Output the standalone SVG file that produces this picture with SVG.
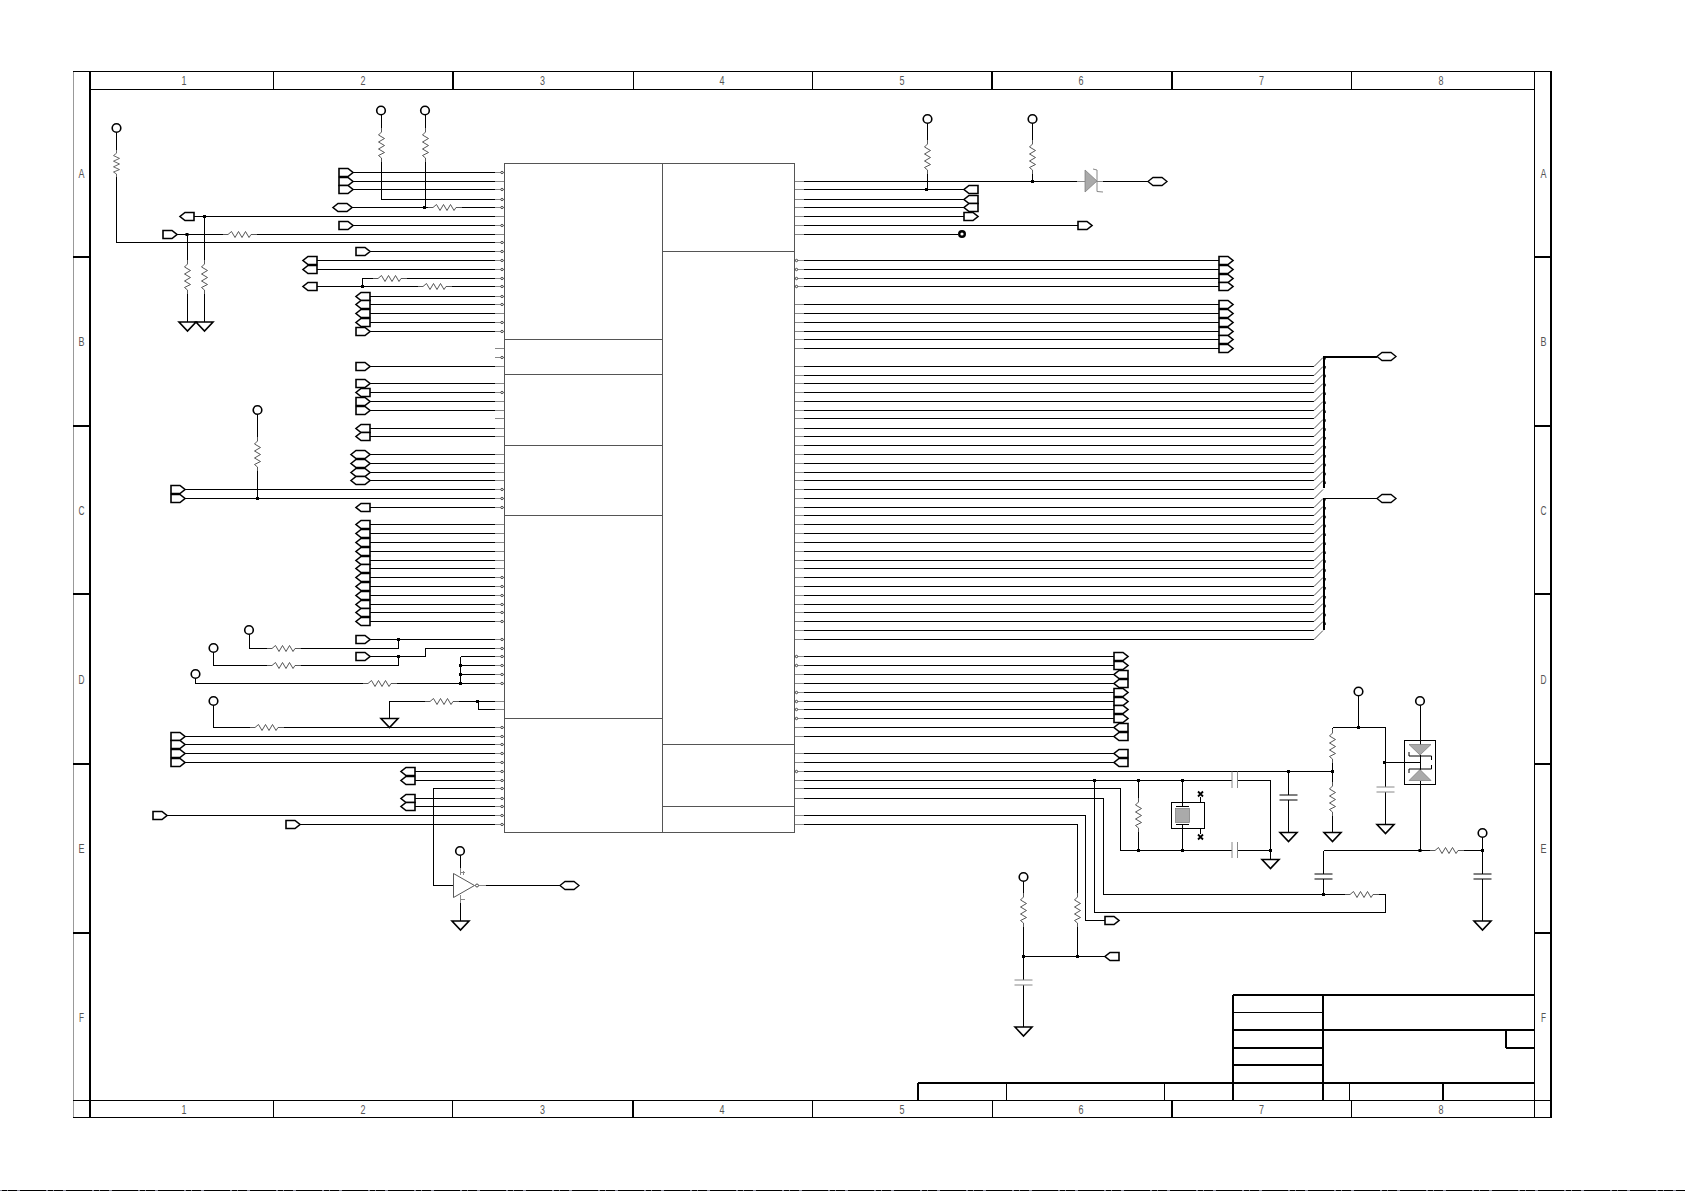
<svg xmlns="http://www.w3.org/2000/svg" xmlns:xlink="http://www.w3.org/1999/xlink" width="1685" height="1191" viewBox="0 0 1685 1191">
<style>
text{font-family:"Liberation Sans",Arial,sans-serif;font-size:13px;fill:#555;text-anchor:middle}
.w{fill:none;stroke:#000;stroke-width:1;shape-rendering:crispEdges}
.b{fill:none;stroke:#000;stroke-width:2;shape-rendering:crispEdges}
.s{fill:none;stroke:#888;stroke-width:1;shape-rendering:crispEdges}
.c{fill:#fff;stroke:#000;stroke-width:1.6}
.r{fill:none;stroke:#444;stroke-width:.9}
.g{fill:none;stroke:#888;stroke-width:1}
.k{fill:none;stroke:#000;stroke-width:1}
.t{fill:none;stroke:#555;stroke-width:1;shape-rendering:crispEdges}
.f{fill:#aaa;stroke:#777;stroke-width:.7}
</style>
<defs>
<path id="D" class="c" d="M0,-4H9L14,0L9,4H0Z"/>
<path id="L" class="c" d="M14,-4H5L0,0L5,4H14Z"/>
<path id="H" class="c" d="M0,0L5,-4H14L19,0L14,4H5Z"/>
<path id="E" d="M0,0L5,-4H14L19,0L14,4H5Z" fill="#fff" stroke="#000" stroke-width="1.3"/>
<path id="G" class="c" d="M-8.5,0H8.5L0,9Z"/>
<circle id="O" class="c" r="4.3"/>
<circle id="p" r="1.2" fill="#fff" stroke="#222" stroke-width=".8"/>
<rect id="J" x="-1.5" y="-1.5" width="3" height="3" fill="#000"/>
<path id="RV" class="r" d="M0,0V4L-3,7L3,10.5L-3,14L3,17.5L-3,21L3,24.5L-3,27.5L0,30V34"/>
<path id="RH" class="r" d="M0,0H5L8.5,-3L12,3L15.5,-3L19,3L22.5,-3L26,3L28,0H34"/>
<path id="CK" class="k" d="M-9,0H9M-9,5H9"/>
<path id="CG" class="g" d="M-9,0H9M-9,5H9"/>
</defs>
<rect width="1685" height="1191" fill="#fff"/>
<g id="frame">
<path d="M73.5,72V1117" fill="none" stroke="#999"/>
<path class="w" d="M73,71.5H1552M73,1117.5H1552M90,89.5H1534M73,1100.5H1552M1534.5,72V1117"/>
<path class="b" d="M90,72V1117M1551,72V1118"/>
<path class="w" d="M273.5,72V89M633.5,72V89M812.5,72V89M1351.5,72V89M273.5,1100V1117M452.5,1100V1117M812.5,1100V1117M992.5,1100V1117M1351.5,1100V1117"/>
<path class="b" d="M453,72V89M992,72V89M1172,72V89M633,1100V1117M1172,1100V1117M73,257H90M1534,257H1552M73,425.5H90M1534,425.5H1552M73,594H90M1534,594H1552M73,764H90M1534,764H1552M73,933H90M1534,933H1552"/>
<g>
<text x="184" y="85" textLength="5" lengthAdjust="spacingAndGlyphs">1</text>
<text x="363" y="85" textLength="5" lengthAdjust="spacingAndGlyphs">2</text>
<text x="542.5" y="85" textLength="5" lengthAdjust="spacingAndGlyphs">3</text>
<text x="722" y="85" textLength="5" lengthAdjust="spacingAndGlyphs">4</text>
<text x="902" y="85" textLength="5" lengthAdjust="spacingAndGlyphs">5</text>
<text x="1081" y="85" textLength="5" lengthAdjust="spacingAndGlyphs">6</text>
<text x="1261.5" y="85" textLength="5" lengthAdjust="spacingAndGlyphs">7</text>
<text x="1441" y="85" textLength="5" lengthAdjust="spacingAndGlyphs">8</text>
<text x="184" y="1114" textLength="5" lengthAdjust="spacingAndGlyphs">1</text>
<text x="363" y="1114" textLength="5" lengthAdjust="spacingAndGlyphs">2</text>
<text x="542.5" y="1114" textLength="5" lengthAdjust="spacingAndGlyphs">3</text>
<text x="722" y="1114" textLength="5" lengthAdjust="spacingAndGlyphs">4</text>
<text x="902" y="1114" textLength="5" lengthAdjust="spacingAndGlyphs">5</text>
<text x="1081" y="1114" textLength="5" lengthAdjust="spacingAndGlyphs">6</text>
<text x="1261.5" y="1114" textLength="5" lengthAdjust="spacingAndGlyphs">7</text>
<text x="1441" y="1114" textLength="5" lengthAdjust="spacingAndGlyphs">8</text>
<text x="81.5" y="178" textLength="6" lengthAdjust="spacingAndGlyphs">A</text>
<text x="81.5" y="346" textLength="6" lengthAdjust="spacingAndGlyphs">B</text>
<text x="81.5" y="515" textLength="6" lengthAdjust="spacingAndGlyphs">C</text>
<text x="81.5" y="684" textLength="6" lengthAdjust="spacingAndGlyphs">D</text>
<text x="81.5" y="853" textLength="6" lengthAdjust="spacingAndGlyphs">E</text>
<text x="81.5" y="1021.5" textLength="5" lengthAdjust="spacingAndGlyphs">F</text>
<text x="1543.5" y="178" textLength="6" lengthAdjust="spacingAndGlyphs">A</text>
<text x="1543.5" y="346" textLength="6" lengthAdjust="spacingAndGlyphs">B</text>
<text x="1543.5" y="515" textLength="6" lengthAdjust="spacingAndGlyphs">C</text>
<text x="1543.5" y="684" textLength="6" lengthAdjust="spacingAndGlyphs">D</text>
<text x="1543.5" y="853" textLength="6" lengthAdjust="spacingAndGlyphs">E</text>
<text x="1543.5" y="1021.5" textLength="5" lengthAdjust="spacingAndGlyphs">F</text>
</g>
<path d="M0,1190.5H1685" stroke="#000" stroke-width="1" fill="none"/>
<path d="M0,1190.5H1685" stroke="#889" stroke-width="1" stroke-dasharray="2 5 1 9 3 26" fill="none"/>
</g>
<g id="title-block">
<path class="b" d="M1233,995H1534M1233,1030H1534M1233,1048H1323M1233,1065H1323M918,1083H1534M1233,995V1100M1323,995V1100M1506,1030V1048M1506,1048H1534M918,1083V1100M1443,1083V1100"/>
<path class="w" d="M1233,1012.5H1323M1006.5,1083V1100M1164.5,1083V1100M1349.5,1083V1100"/>
</g>
<g id="U1">
<rect class="t" x="504.5" y="163.5" width="290" height="669" fill="none"/>
<path class="t" d="M662.5,163V832M504,339.5H662M504,374.5H662M504,445.5H662M504,515.5H662M504,718.5H662M662,251.5H794M662,744.5H794M662,806.5H794"/>
<path class="s" d="M495,172.5h9M495,181.5h9M495,189.5h9M495,199.5h9M495,207.5h9M495,216.5h9M495,225.5h9M495,234.5h9M495,242.5h9M495,251.5h9M495,260.5h9M495,269.5h9M495,278.5h9M495,286.5h9M495,296.5h9M495,304.5h9M495,313.5h9M495,322.5h9M495,331.5h9M495,348.5h9M495,357.5h9M495,366.5h9M495,383.5h9M495,392.5h9M495,401.5h9M495,410.5h9M495,418.5h9M495,428.5h9M495,436.5h9M495,454.5h9M495,463.5h9M495,472.5h9M495,480.5h9M495,489.5h9M495,498.5h9M495,507.5h9M495,524.5h9M495,533.5h9M495,542.5h9M495,551.5h9M495,560.5h9M495,568.5h9M495,577.5h9M495,586.5h9M495,595.5h9M495,604.5h9M495,612.5h9M495,621.5h9M495,639.5h9M495,648.5h9M495,656.5h9M495,665.5h9M495,674.5h9M495,683.5h9M495,701.5h9M495,709.5h9M495,727.5h9M495,736.5h9M495,744.5h9M495,753.5h9M495,762.5h9M495,771.5h9M495,780.5h9M495,788.5h9M495,798.5h9M495,806.5h9M495,815.5h9M495,824.5h9"/>
<path class="s" d="M795,181.5h9M795,189.5h9M795,199.5h9M795,207.5h9M795,216.5h9M795,225.5h9M795,234.5h9M795,260.5h9M795,269.5h9M795,278.5h9M795,286.5h9M795,304.5h9M795,313.5h9M795,322.5h9M795,331.5h9M795,339.5h9M795,348.5h9M795,366.5h9M795,375.5h9M795,383.5h9M795,392.5h9M795,401.5h9M795,410.5h9M795,418.5h9M795,428.5h9M795,436.5h9M795,445.5h9M795,454.5h9M795,463.5h9M795,472.5h9M795,480.5h9M795,489.5h9M795,498.5h9M795,507.5h9M795,515.5h9M795,524.5h9M795,533.5h9M795,542.5h9M795,551.5h9M795,560.5h9M795,568.5h9M795,577.5h9M795,586.5h9M795,595.5h9M795,604.5h9M795,612.5h9M795,621.5h9M795,630.5h9M795,639.5h9M795,656.5h9M795,665.5h9M795,674.5h9M795,683.5h9M795,692.5h9M795,701.5h9M795,709.5h9M795,718.5h9M795,727.5h9M795,736.5h9M795,753.5h9M795,762.5h9M795,771.5h9M795,780.5h9M795,788.5h9M795,798.5h9M795,815.5h9M795,824.5h9"/>
<g id="pins">
<use href="#p" x="502" y="172.5"/><use href="#p" x="502" y="189.5"/><use href="#p" x="502" y="199.5"/><use href="#p" x="502" y="207.5"/><use href="#p" x="502" y="225.5"/><use href="#p" x="502" y="242.5"/><use href="#p" x="502" y="251.5"/><use href="#p" x="502" y="260.5"/><use href="#p" x="502" y="269.5"/><use href="#p" x="502" y="278.5"/><use href="#p" x="502" y="286.5"/><use href="#p" x="502" y="296.5"/><use href="#p" x="502" y="304.5"/><use href="#p" x="502" y="322.5"/><use href="#p" x="502" y="331.5"/><use href="#p" x="502" y="357.5"/><use href="#p" x="502" y="392.5"/><use href="#p" x="502" y="489.5"/><use href="#p" x="502" y="498.5"/><use href="#p" x="502" y="507.5"/><use href="#p" x="502" y="577.5"/><use href="#p" x="502" y="586.5"/><use href="#p" x="502" y="595.5"/><use href="#p" x="502" y="604.5"/><use href="#p" x="502" y="612.5"/><use href="#p" x="502" y="621.5"/><use href="#p" x="502" y="639.5"/><use href="#p" x="502" y="648.5"/><use href="#p" x="502" y="656.5"/><use href="#p" x="502" y="665.5"/><use href="#p" x="502" y="674.5"/><use href="#p" x="502" y="683.5"/><use href="#p" x="502" y="727.5"/><use href="#p" x="502" y="736.5"/><use href="#p" x="502" y="744.5"/><use href="#p" x="502" y="753.5"/><use href="#p" x="502" y="762.5"/><use href="#p" x="502" y="771.5"/><use href="#p" x="502" y="780.5"/><use href="#p" x="502" y="788.5"/><use href="#p" x="502" y="798.5"/><use href="#p" x="502" y="806.5"/><use href="#p" x="502" y="815.5"/><use href="#p" x="502" y="824.5"/>
<use href="#p" x="796.5" y="260.5"/><use href="#p" x="796.5" y="269.5"/><use href="#p" x="796.5" y="278.5"/><use href="#p" x="796.5" y="286.5"/><use href="#p" x="796.5" y="656.5"/><use href="#p" x="796.5" y="665.5"/><use href="#p" x="796.5" y="692.5"/><use href="#p" x="796.5" y="701.5"/><use href="#p" x="796.5" y="709.5"/><use href="#p" x="796.5" y="718.5"/><use href="#p" x="796.5" y="771.5"/>
</g>
</g>
<g id="connectors">
<path class="w" d="M352,172.5H495M352,181.5H495M352,189.5H495M381.5,115V128M381.5,162V199.5H495M425.5,115V128M425.5,162V207.5M352,207.5H428M462,207.5H495M194,216.5H495M204.5,216.5V260M204.5,294V322M352,225.5H495M177,234.5H223M257,234.5H495M187.5,234.5V260M187.5,294V322M116.5,132V150M116.5,177V242.5H495M370,251.5H495M317,260.5H495M317,269.5H495M362.5,286.5V278.5H373M407,278.5H495M317,286.5H418M452,286.5H495M370,296.5H495M370,304.5H495M370,313.5H495M370,322.5H495M370,331.5H495M370,366.5H495M370,383.5H495M370,392.5H495M370,401.5H495M370,410.5H495M370,428.5H495M370,436.5H495M370,454.5H495M370,463.5H495M370,472.5H495M370,480.5H495M185,489.5H495M185,498.5H495M257.5,414V437M257.5,471V498.5M370,507.5H495M370,524.5H495M370,533.5H495M370,542.5H495M370,551.5H495M370,560.5H495M370,568.5H495M370,577.5H495M370,586.5H495M370,595.5H495M370,604.5H495M370,612.5H495M370,621.5H495"/>
<path class="w" d="M370,639.5H495M249.5,634V648.5H267M301,648.5H398.5V639.5M213.5,652V665.5H267M301,665.5H398.5V656.5M370,656.5H425.5V648.5H495M460.5,656.5H495M460.5,656.5V683.5M460.5,665.5H495M460.5,674.5H495M460.5,683.5H495M195.5,678V683.5H363M397,683.5H460M389.5,718V701.5H425M459,701.5H495M478.5,701.5V709.5H495M213.5,705V727.5H250M284,727.5H495M185,736.5H495M185,744.5H495M185,753.5H495M185,762.5H495M415,771.5H495M415,780.5H495M495,788.5H433.5V885.5H453M415,798.5H495M415,806.5H495M167,815.5H495M300,824.5H495M486,885.5H560M460.5,855V868M460.5,903V921"/>
<path class="w" d="M804,181.5H1077M804,189.5H964M804,199.5H964M804,207.5H964M804,216.5H964M804,225.5H1078M804,234.5H958M927.5,123V140M927.5,174V189.5M1032.5,123V140M1032.5,174V181.5M1103,181.5H1148M804,260.5H1219M804,269.5H1219M804,278.5H1219M804,286.5H1219M804,304.5H1219M804,313.5H1219M804,322.5H1219M804,331.5H1219M804,339.5H1219M804,348.5H1219"/>
<path class="w" d="M804,366.5H1314M804,375.5H1314M804,383.5H1314M804,392.5H1314M804,401.5H1314M804,410.5H1314M804,418.5H1314M804,428.5H1314M804,436.5H1314M804,445.5H1314M804,454.5H1314M804,463.5H1314M804,472.5H1314M804,480.5H1314M804,489.5H1314M804,498.5H1314M804,507.5H1314M804,515.5H1314M804,524.5H1314M804,533.5H1314M804,542.5H1314M804,551.5H1314M804,560.5H1314M804,568.5H1314M804,577.5H1314M804,586.5H1314M804,595.5H1314M804,604.5H1314M804,612.5H1314M804,621.5H1314M804,630.5H1314M804,639.5H1314"/>
<path fill="none" stroke="#555" stroke-width="1" d="M1314,366.5l9,-9M1314,375.5l9,-9M1314,383.5l9,-9M1314,392.5l9,-9M1314,401.5l9,-9M1314,410.5l9,-9M1314,418.5l9,-9M1314,428.5l9,-9M1314,436.5l9,-9M1314,445.5l9,-9M1314,454.5l9,-9M1314,463.5l9,-9M1314,472.5l9,-9M1314,480.5l9,-9M1314,489.5l9,-9M1314,498.5l9,-9M1314,507.5l9,-9M1314,515.5l9,-9M1314,524.5l9,-9M1314,533.5l9,-9M1314,542.5l9,-9M1314,551.5l9,-9M1314,560.5l9,-9M1314,568.5l9,-9M1314,577.5l9,-9M1314,586.5l9,-9M1314,595.5l9,-9M1314,604.5l9,-9M1314,612.5l9,-9M1314,621.5l9,-9M1314,630.5l9,-9M1314,639.5l9,-9"/>
<path class="b" d="M1323.5,356V488M1323.5,498V630M1323,356.5H1377"/>
<path fill="none" stroke="#000" stroke-width="1.5" stroke-dasharray="2.5 6.4" d="M1325,357V488M1325,498V630"/>
<path class="w" d="M1323,498.5H1377"/>
<path class="w" d="M804,656.5H1114M804,665.5H1114M804,674.5H1114M804,683.5H1114M804,692.5H1114M804,701.5H1114M804,709.5H1114M804,718.5H1114M804,727.5H1114M804,736.5H1114M804,753.5H1114M804,762.5H1114"/>
<path class="w" d="M804,771.5H1332.5M804,780.5H1232M1238,780.5H1270.5V859M804,788.5H1120.5V850.5H1232M1238,850.5H1270.5M804,798.5H1103.5V894.5H1345M1379,894.5H1385.5V912.5H1094.5V780.5M804,815.5H1085.5V920.5H1105M804,824.5H1077.5V893M1077.5,927V956.5M1023.5,881V893M1023.5,927V980M1023.5,985V1027M1023.5,956.5H1105M1138.5,780.5V798M1138.5,832V850.5M1182.5,780.5V806M1182.5,824V850.5M1288.5,771.5V795M1288.5,800V832M1332.5,727.5V729M1332.5,763V782M1332.5,816V832M1332.5,727.5H1385.5V787M1385.5,792V824M1358.5,696V727.5M1384.5,762.5H1420M1420.5,705V745M1420.5,755V770M1420.5,781V850.5M1323.5,850.5H1430M1464,850.5H1482.5M1323.5,850.5V874M1323.5,879V894.5M1482.5,837V874M1482.5,879V921"/>
</g>
<g id="offpage">
<use href="#D" x="339" y="172.5"/><use href="#D" x="339" y="181.5"/><use href="#D" x="339" y="189.5"/><use href="#H" x="333" y="207.5"/><use href="#L" x="180" y="216.5"/><use href="#D" x="339" y="225.5"/><use href="#D" x="163" y="234.5"/><use href="#D" x="356" y="251.5"/><use href="#L" x="303" y="260.5"/><use href="#L" x="303" y="269.5"/><use href="#L" x="303" y="286.5"/><use href="#L" x="356" y="296.5"/><use href="#L" x="356" y="304.5"/><use href="#L" x="356" y="313.5"/><use href="#L" x="356" y="322.5"/><use href="#D" x="356" y="331.5"/><use href="#D" x="356" y="366.5"/><use href="#D" x="356" y="383.5"/><use href="#L" x="356" y="392.5"/><use href="#D" x="356" y="401.5"/><use href="#D" x="356" y="410.5"/><use href="#L" x="356" y="428.5"/><use href="#L" x="356" y="436.5"/><use href="#H" x="351" y="454.5"/><use href="#H" x="351" y="463.5"/><use href="#H" x="351" y="472.5"/><use href="#H" x="351" y="480.5"/><use href="#D" x="171" y="489.5"/><use href="#D" x="171" y="498.5"/><use href="#L" x="356" y="507.5"/><use href="#L" x="356" y="524.5"/><use href="#L" x="356" y="533.5"/><use href="#L" x="356" y="542.5"/><use href="#L" x="356" y="551.5"/><use href="#L" x="356" y="560.5"/><use href="#L" x="356" y="568.5"/><use href="#L" x="356" y="577.5"/><use href="#L" x="356" y="586.5"/><use href="#L" x="356" y="595.5"/><use href="#L" x="356" y="604.5"/><use href="#L" x="356" y="612.5"/><use href="#L" x="356" y="621.5"/><use href="#D" x="356" y="639.5"/><use href="#D" x="356" y="656.5"/><use href="#D" x="171" y="736.5"/><use href="#D" x="171" y="744.5"/><use href="#D" x="171" y="753.5"/><use href="#D" x="171" y="762.5"/><use href="#L" x="401" y="771.5"/><use href="#L" x="401" y="780.5"/><use href="#L" x="401" y="798.5"/><use href="#L" x="401" y="806.5"/><use href="#D" x="153" y="815.5"/><use href="#D" x="286" y="824.5"/><use href="#E" x="560" y="885.5"/>
<use href="#L" x="964" y="189.5"/><use href="#L" x="964" y="199.5"/><use href="#L" x="964" y="207.5"/><use href="#D" x="964" y="216.5"/><use href="#D" x="1078" y="225.5"/><use href="#E" x="1148" y="181.5"/>
<use href="#D" x="1219" y="260.5"/><use href="#D" x="1219" y="269.5"/><use href="#D" x="1219" y="278.5"/><use href="#D" x="1219" y="286.5"/><use href="#D" x="1219" y="304.5"/><use href="#D" x="1219" y="313.5"/><use href="#D" x="1219" y="322.5"/><use href="#D" x="1219" y="331.5"/><use href="#D" x="1219" y="339.5"/><use href="#D" x="1219" y="348.5"/>
<use href="#E" x="1377" y="356.5"/><use href="#E" x="1377" y="498.5"/>
<use href="#D" x="1114" y="656.5"/><use href="#D" x="1114" y="665.5"/><use href="#L" x="1114" y="674.5"/><use href="#L" x="1114" y="683.5"/><use href="#D" x="1114" y="692.5"/><use href="#D" x="1114" y="701.5"/><use href="#D" x="1114" y="709.5"/><use href="#D" x="1114" y="718.5"/><use href="#L" x="1114" y="727.5"/><use href="#L" x="1114" y="736.5"/><use href="#L" x="1114" y="753.5"/><use href="#L" x="1114" y="762.5"/>
<use href="#D" x="1105" y="920.5"/><use href="#L" x="1105" y="956.5"/>
</g>
<g id="power-pads">
<use href="#O" x="116.5" y="128"/><use href="#O" x="381" y="110.5"/><use href="#O" x="425" y="110.5"/><use href="#O" x="257.5" y="410"/><use href="#O" x="249" y="630"/><use href="#O" x="213.5" y="648"/><use href="#O" x="195.5" y="674"/><use href="#O" x="213.5" y="701"/><use href="#O" x="460" y="851"/><use href="#O" x="927.5" y="119"/><use href="#O" x="1032.5" y="119"/><use href="#O" x="1358.5" y="691.5"/><use href="#O" x="1420" y="701"/><use href="#O" x="1482.5" y="833"/><use href="#O" x="1023.5" y="877"/>
<circle cx="962" cy="234" r="2.8" fill="#fff" stroke="#000" stroke-width="2.4"/>
</g>
<g id="grounds">
<use href="#G" x="187.5" y="322"/><use href="#G" x="204.5" y="322"/><use href="#G" x="389.5" y="718.5"/><use href="#G" x="460.5" y="921"/><use href="#G" x="1270.5" y="859.5"/><use href="#G" x="1288.5" y="832.5"/><use href="#G" x="1332.5" y="832.5"/><use href="#G" x="1385.5" y="824.5"/><use href="#G" x="1482.5" y="921"/><use href="#G" x="1023.5" y="1027"/>
</g>
<g id="resistors">
<use href="#RV" x="381.5" y="128"/><use href="#RV" x="425.5" y="128"/><use href="#RV" transform="translate(116.5,150) scale(1,.8)"/><use href="#RV" x="187.5" y="260"/><use href="#RV" x="204.5" y="260"/><use href="#RV" x="257.5" y="437"/><use href="#RV" x="927.5" y="140"/><use href="#RV" x="1032.5" y="140"/><use href="#RV" x="1138.5" y="798"/><use href="#RV" x="1332.5" y="729"/><use href="#RV" x="1332.5" y="782"/><use href="#RV" x="1023.5" y="893"/><use href="#RV" x="1077.5" y="893"/>
<use href="#RH" x="428" y="207.5"/><use href="#RH" x="223" y="234.5"/><use href="#RH" x="373" y="278.5"/><use href="#RH" x="418" y="286.5"/><use href="#RH" x="267" y="648.5"/><use href="#RH" x="267" y="665.5"/><use href="#RH" x="363" y="683.5"/><use href="#RH" x="425" y="701.5"/><use href="#RH" x="250" y="727.5"/><use href="#RH" x="1345" y="894.5"/><use href="#RH" x="1430" y="850.5"/>
</g>
<g id="capacitors">
<use href="#CK" x="1288.5" y="795"/><use href="#CG" x="1385.5" y="787"/><use href="#CK" x="1323.5" y="874"/><use href="#CK" x="1482.5" y="874"/><use href="#CG" x="1023.5" y="980"/>
<path class="g" d="M1232,771.5V788M1237.5,771.5V788M1232,842V858M1237.5,842V858"/>
</g>
<g id="junctions">
<use href="#J" x="424.5" y="207.5"/><use href="#J" x="204.5" y="216.5"/><use href="#J" x="187" y="234.5"/><use href="#J" x="362.5" y="286.5"/><use href="#J" x="257.5" y="498.5"/><use href="#J" x="398.5" y="639.5"/><use href="#J" x="398.5" y="656.5"/><use href="#J" x="460.5" y="665.5"/><use href="#J" x="460.5" y="674.5"/><use href="#J" x="460.5" y="683.5"/><use href="#J" x="477.5" y="701.5"/><use href="#J" x="926.5" y="189.5"/><use href="#J" x="1032.5" y="181.5"/><use href="#J" x="1288.5" y="771.5"/><use href="#J" x="1332.5" y="771.5"/><use href="#J" x="1094.5" y="780.5"/><use href="#J" x="1138.5" y="780.5"/><use href="#J" x="1182.5" y="780.5"/><use href="#J" x="1138.5" y="850.5"/><use href="#J" x="1182.5" y="850.5"/><use href="#J" x="1270.5" y="850.5"/><use href="#J" x="1358.5" y="727.5"/><use href="#J" x="1384.5" y="762.5"/><use href="#J" x="1420" y="850.5"/><use href="#J" x="1482.5" y="850.5"/><use href="#J" x="1323.5" y="894.5"/><use href="#J" x="1077.5" y="956.5"/><use href="#J" x="1023.5" y="956.5"/>
</g>
<g id="opamp">
<path d="M453.5,873.5V897.5L474.5,885.5Z" fill="#fff" stroke="#444" stroke-width=".9"/>
<circle cx="477" cy="885.5" r="1.5" fill="#fff" stroke="#222" stroke-width=".8"/>
<path class="s" d="M486,885.5H479M460.5,868V875M460.5,895V903M461,872.5h4M463,870.5v4M461,899.5h4"/>
</g>
<g id="diode">
<path class="f" d="M1085,170V192L1097,181Z"/>
<path class="g" d="M1077,181.5H1085M1097,181.5H1103M1097,170V191.5L1103,192M1097,170L1093,169"/>
</g>
<g id="crystal">
<rect class="k" x="1171.5" y="802.5" width="33" height="26" fill="#fff"/>
<rect x="1175.5" y="808.5" width="14" height="14" fill="#aaa" stroke="#777" stroke-width=".7"/>
<path class="k" d="M1176,806.5H1189M1176,824.5H1189M1200.5,797V802M1200.5,829V834"/>
<path d="M1198,791.5L1203,796.5M1203,791.5L1198,796.5M1198,834.5L1203,839.5M1203,834.5L1198,839.5" fill="none" stroke="#000" stroke-width="1.8"/>
</g>
<g id="dual-diode">
<rect class="k" x="1404.5" y="740.5" width="31" height="44" fill="none"/>
<path class="f" d="M1409,744.5H1431L1420,755Z"/>
<path class="f" d="M1420,769.5L1409,780.5H1431Z"/>
<path class="k" d="M1409,752V756H1431.5V760M1409,773V769H1431.5V765"/>
</g>
</svg>
